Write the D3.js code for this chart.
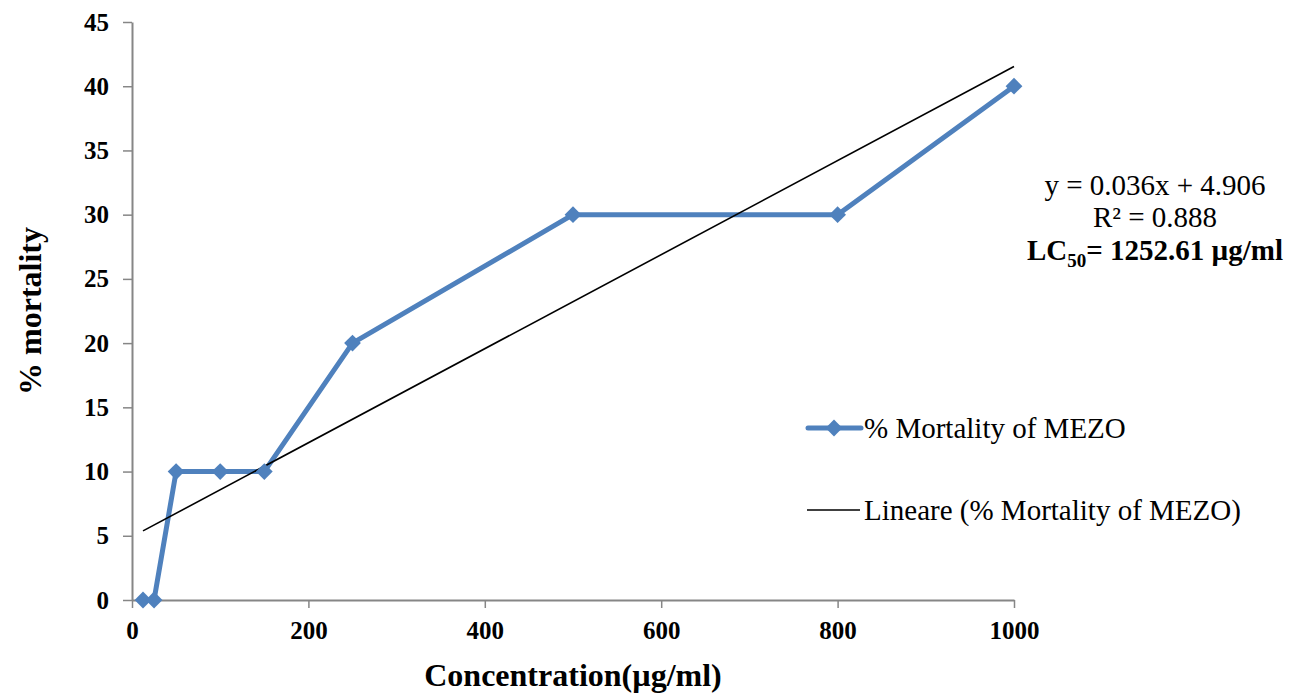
<!DOCTYPE html>
<html>
<head>
<meta charset="utf-8">
<script src="https://cdn.jsdelivr.net/npm/d3@7"></script>
<style>
  html, body { margin: 0; padding: 0; background: #fff; }
  svg { display: block; font-family: "Liberation Serif", "Times New Roman", serif; }
</style>
</head>
<body>
<svg id="chart" width="1290" height="694"></svg>
<script>
// Concentration (µg/ml) and observed mortality (%)
const concentrations = [12.5, 25, 50, 100, 150, 250, 500, 800, 1000];
const mortality = [0, 0, 10, 10, 10, 20, 30, 30, 40];
const xTicks = [0, 200, 400, 600, 800, 1000];
const yTicks = [0, 5, 10, 15, 20, 25, 30, 35, 40, 45];
const seriesName = "% Mortality of MEZO";
const trendName = "Lineare (% Mortality of MEZO)";
const equationLines = ["y = 0.036x + 4.906", "R² = 0.888"];

const data = concentrations.map((c, i) => ({ x: c, y: mortality[i] }));

const svg = d3.select("#chart");
const margin = { left: 132, right: 276, top: 22, bottom: 94 };
const W = 1290, H = 694;

const x = d3.scaleLinear().domain([0, 1000]).range([margin.left, W - margin.right]);
const y = d3.scaleLinear().domain([0, 45]).range([H - margin.bottom, margin.top]);

const axisColor = "#868686";
const blue = "#4F81BD";

// X axis
const gx = svg.append("g")
  .attr("transform", `translate(0,${y(0)})`)
  .call(d3.axisBottom(x).tickValues(xTicks).tickFormat(d3.format("d"))
    .tickSize(8).tickSizeOuter(0).tickPadding(13));
// Y axis
const gy = svg.append("g")
  .attr("transform", `translate(${x(0)},0)`)
  .call(d3.axisLeft(y).tickValues(yTicks).tickFormat(d3.format("d"))
    .tickSize(9).tickSizeOuter(0).tickPadding(14));

[gx, gy].forEach(g => {
  g.select(".domain").attr("stroke", axisColor).attr("stroke-width", 2);
  g.selectAll(".tick line").attr("stroke", axisColor).attr("stroke-width", 1.5);
  g.selectAll(".tick text")
    .attr("fill", "#000")
    .style("font-family", "'Liberation Serif', serif")
    .style("font-size", "25px")
    .style("font-weight", "bold");
});

// Axis titles
svg.append("text")
  .attr("x", (x(0) + x(1000)) / 2)
  .attr("y", 686)
  .attr("text-anchor", "middle")
  .style("font-size", "32px")
  .style("font-weight", "bold")
  .text("Concentration(µg/ml)");

svg.append("text")
  .attr("transform", `translate(41,${(y(0) + y(45)) / 2}) rotate(-90)`)
  .attr("text-anchor", "middle")
  .style("font-size", "32px")
  .style("font-weight", "bold")
  .text("% mortality");

// Least-squares linear trend over the observed points
const mx = d3.mean(data, d => d.x), my = d3.mean(data, d => d.y);
const slope = d3.sum(data, d => (d.x - mx) * (d.y - my)) / d3.sum(data, d => (d.x - mx) ** 2);
const intercept = my - slope * mx;
const xMin = d3.min(concentrations), xMax = d3.max(concentrations);

// Series line
svg.append("path")
  .datum(data)
  .attr("fill", "none")
  .attr("stroke", blue)
  .attr("stroke-width", 5)
  .attr("stroke-linejoin", "round")
  .attr("d", d3.line().x(d => x(d.x)).y(d => y(d.y)));

// Trend line
svg.append("line")
  .attr("x1", x(xMin)).attr("y1", y(slope * xMin + intercept))
  .attr("x2", x(xMax)).attr("y2", y(slope * xMax + intercept))
  .attr("stroke", "#000")
  .attr("stroke-width", 1.6);

// Diamond markers
const diamond = d3.symbol().type(d3.symbolDiamond2).size(180);
svg.append("g").selectAll("path")
  .data(data)
  .join("path")
  .attr("transform", d => `translate(${x(d.x)},${y(d.y)})`)
  .attr("d", diamond)
  .attr("fill", blue);

// Equation annotation
const eq = svg.append("text")
  .attr("text-anchor", "middle")
  .style("font-size", "29px");
equationLines.forEach((t, i) => {
  eq.append("tspan").attr("x", 1155).attr("y", 195 + i * 32).text(t);
});
const lc = svg.append("text")
  .attr("x", 1155).attr("y", 260)
  .attr("text-anchor", "middle")
  .style("font-size", "29px")
  .style("font-weight", "bold");
lc.append("tspan").text("LC");
lc.append("tspan").attr("dy", 7).style("font-size", "19px").text("50");
lc.append("tspan").attr("dy", -7).text("= 1252.61 µg/ml");

// Legend
const lg = svg.append("g");
lg.append("line").attr("x1", 808).attr("x2", 861).attr("y1", 428).attr("y2", 428)
  .attr("stroke", blue).attr("stroke-width", 5).attr("stroke-linecap", "round");
lg.append("path").attr("transform", "translate(834,428)").attr("d", diamond).attr("fill", blue);
lg.append("text").attr("x", 864).attr("y", 438).style("font-size", "29px").text(seriesName);
lg.append("line").attr("x1", 807).attr("x2", 860).attr("y1", 510).attr("y2", 510)
  .attr("stroke", "#000").attr("stroke-width", 1.6);
lg.append("text").attr("x", 864).attr("y", 520).style("font-size", "29px").text(trendName);
</script>
</body>
</html>
